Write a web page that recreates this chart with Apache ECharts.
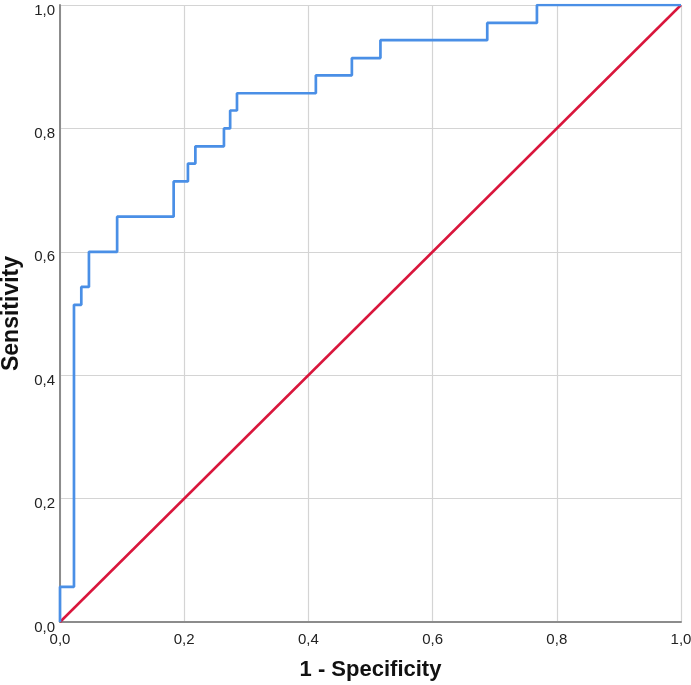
<!DOCTYPE html>
<html>
<head>
<meta charset="utf-8">
<script src="https://cdn.jsdelivr.net/npm/echarts@6/dist/echarts.min.js"></script>
<style>
html,body{margin:0;padding:0;background:#fff;}
#chart{width:691px;height:685px;}
</style>
</head>
<body>
<div id="chart"></div>
<script>
// ROC curve corner points (1 - Specificity, Sensitivity)
const fpr = [0, 0, 0.0225, 0.0225, 0.0343, 0.0343, 0.0466, 0.0466, 0.092, 0.092, 0.183, 0.183, 0.206, 0.206, 0.218, 0.218, 0.264, 0.264, 0.274, 0.274, 0.285, 0.285, 0.412, 0.412, 0.47, 0.47, 0.516, 0.516, 0.688, 0.688, 0.768, 0.768, 1];
const tpr = [0, 0.057, 0.057, 0.514, 0.514, 0.543, 0.543, 0.6, 0.6, 0.657, 0.657, 0.714, 0.714, 0.743, 0.743, 0.771, 0.771, 0.8, 0.8, 0.829, 0.829, 0.857, 0.857, 0.886, 0.886, 0.914, 0.914, 0.943, 0.943, 0.971, 0.971, 1, 1];
// Reference diagonal
const refX = [0, 1];
const refY = [0, 1];
const xTitle = '1 - Specificity';
const yTitle = 'Sensitivity';

const fmt = v => v.toFixed(1).replace('.', ',');
const FONT = 'Liberation Sans, Arial, sans-serif';

const chart = echarts.init(document.getElementById('chart'), null, {renderer: 'canvas'});
const axisCommon = {
  type: 'value', min: 0, max: 1, interval: 0.2,
  axisLine: {show: true, onZero: false, lineStyle: {color: '#8c8c8c', width: 2}},
  axisTick: {show: false},
  splitLine: {show: true, lineStyle: {color: '#d4d4d4', width: 1.2}},
  nameLocation: 'middle'
};
chart.setOption({
  backgroundColor: '#fff',
  animation: false,
  grid: {left: 60, right: 10, top: 5, bottom: 63, containLabel: false, outerBoundsMode: 'none'},
  xAxis: Object.assign({}, axisCommon, {
    name: xTitle, nameGap: 37,
    nameTextStyle: {fontFamily: FONT, fontSize: 22, fontWeight: 'bold', color: '#111'},
    axisLabel: {formatter: fmt, color: '#222', fontFamily: FONT, fontSize: 15, margin: 10}
  }),
  yAxis: Object.assign({}, axisCommon, {
    name: yTitle, nameGap: 37,
    nameTextStyle: {fontFamily: FONT, fontSize: 23, fontWeight: 'bold', color: '#111'},
    axisLabel: {formatter: fmt, color: '#222', fontFamily: FONT, fontSize: 15, margin: 5, verticalAlign: 'top', lineHeight: 11}
  }),
  series: [
    {
      type: 'line', name: 'Reference', symbol: 'none',
      data: refX.map((x, i) => [x, refY[i]]),
      lineStyle: {color: '#d9163c', width: 2.5}, z: 2
    },
    {
      type: 'line', name: 'ROC', symbol: 'none',
      data: fpr.map((x, i) => [x, tpr[i]]),
      lineStyle: {color: '#4a8fe6', width: 2.7}, z: 3
    }
  ]
});
</script>
</body>
</html>
